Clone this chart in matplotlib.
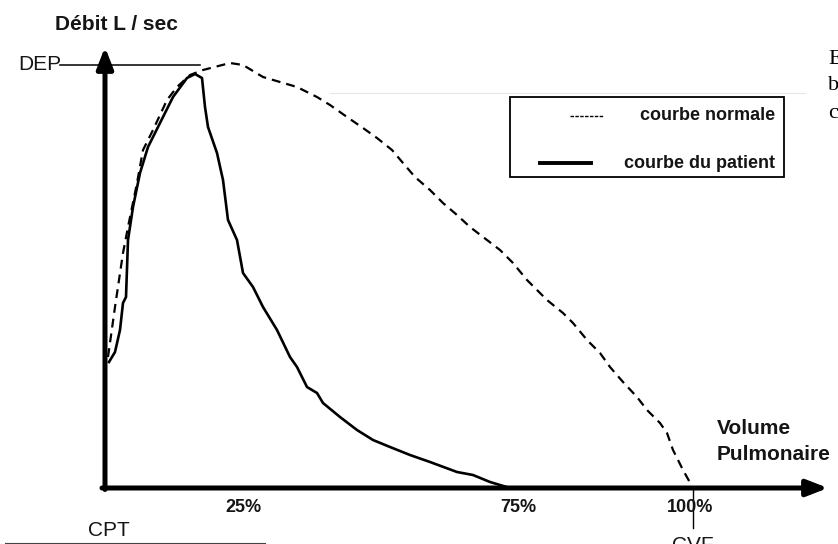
import matplotlib.pyplot as plt
from matplotlib.patches import Rectangle

# volume expiré (L) et débit (L/s)
patient_vol = [0.04, 0.10, 0.15, 0.18, 0.21, 0.23, 0.28, 0.35, 0.43, 0.55, 0.68, 0.82,
               0.90, 0.97, 1.00, 1.03, 1.12, 1.18, 1.23, 1.32, 1.38, 1.48, 1.58, 1.72,
               1.85, 1.92, 2.02, 2.12, 2.18, 2.35, 2.52, 2.68, 2.85, 3.05, 3.25, 3.52,
               3.68, 3.85, 4.05]
patient_flow = [2.52, 2.72, 3.16, 3.70, 3.82, 4.96, 5.62, 6.30, 6.82, 7.30, 7.82, 8.20,
                8.28, 8.20, 7.62, 7.22, 6.70, 6.16, 5.36, 4.96, 4.30, 4.02, 3.62, 3.16,
                2.62, 2.42, 2.02, 1.90, 1.70, 1.42, 1.16, 0.96, 0.82, 0.66, 0.52, 0.32,
                0.26, 0.12, 0.0]

normal_vol = [0.03, 0.10, 0.18, 0.23, 0.32, 0.38, 0.48, 0.62, 0.72, 0.85, 0.98, 1.25,
              1.38, 1.58, 1.92, 2.12, 2.25, 2.42, 2.58, 2.72, 2.87, 2.98, 3.10, 3.25,
              3.38, 3.52, 3.65, 3.82, 3.95, 4.08, 4.22, 4.42, 4.58, 4.68, 4.82, 4.95,
              5.05, 5.18, 5.32, 5.42, 5.55, 5.62, 5.68, 5.78, 5.88]
normal_flow = [2.62, 3.62, 4.70, 5.22, 6.10, 6.76, 7.16, 7.76, 8.02, 8.26, 8.36, 8.50,
               8.46, 8.22, 8.02, 7.82, 7.66, 7.42, 7.20, 7.00, 6.76, 6.50, 6.22, 5.96,
               5.70, 5.46, 5.22, 4.96, 4.76, 4.50, 4.16, 3.76, 3.50, 3.30, 2.96, 2.70,
               2.42, 2.12, 1.82, 1.56, 1.30, 1.10, 0.76, 0.36, 0.0]

dep = 8.46
cvf = 5.88
tick_pos = [1.38, 4.13, 5.85]
tick_labels = ['25%', '75%', '100%']

fig = plt.figure(figsize=(8.38, 5.44), dpi=100)
ax = fig.add_axes([0, 0, 1, 1])
ax.set_xlim(-1.05, 7.33)
ax.set_ylim(-1.12, 9.76)
ax.axis('off')

bold = dict(family='Liberation Sans', weight='bold', color='#151515')
reg = dict(family='Liberation Sans', color='#151515')

# axes fléchés
arrow = dict(arrowstyle='-|>,head_length=0.9,head_width=0.35', lw=3.6, color='black',
             shrinkA=0, shrinkB=0, mutation_scale=14)
ax.annotate('', xy=(0, 8.82), xytext=(0, -0.03), arrowprops=arrow)
ax.annotate('', xy=(7.23, 0), xytext=(-0.03, 0), arrowprops=arrow)

# courbes
ax.plot(normal_vol, normal_flow, color='black', lw=1.6, dashes=(4, 2.7))
ax.plot(patient_vol, patient_flow, color='black', lw=1.9, solid_joinstyle='round')

# DEP et CVF
ax.plot([-0.45, 0.95], [dep, dep], color='black', lw=1.1)
ax.text(-0.44, dep, 'DEP', ha='right', va='center', fontsize=15, **reg)
ax.plot([cvf, cvf], [0, -0.8], color='black', lw=1.0)
ax.text(cvf, -0.96, 'CVF', ha='center', va='top', fontsize=15, **reg)

for p, lab in zip(tick_pos, tick_labels):
    ax.text(p, -0.38, lab, ha='center', va='center', fontsize=13, **bold)

ax.text(0.04, -0.84, 'CPT', ha='center', va='center', fontsize=15, **reg)
ax.plot([-1.0, 1.6], [-1.10, -1.10], color='#444444', lw=0.8)

ax.text(-0.50, 9.26, 'Débit L / sec', ha='left', va='center', fontsize=15, **bold)
ax.text(6.12, 1.18, 'Volume', ha='left', va='center', fontsize=15, **bold)
ax.text(6.12, 0.66, 'Pulmonaire', ha='left', va='center', fontsize=15, **bold)

# légende
ax.plot([2.25, 7.0], [7.90, 7.90], color='#e6e6e6', lw=0.8)
ax.add_patch(Rectangle((4.05, 6.22), 2.74, 1.60, fill=False, lw=1.3, ec='black'))
ax.plot([4.65, 4.98], [7.44, 7.44], color='black', lw=1.0, dashes=(2.5, 1))
ax.text(6.70, 7.44, 'courbe normale', ha='right', va='center', fontsize=13, **bold)
ax.plot([4.35, 4.86], [6.50, 6.50], color='black', lw=2.8)
ax.text(6.70, 6.50, 'courbe du patient', ha='right', va='center', fontsize=13, **bold)

# texte coupé à droite
for y, s in zip([8.56, 8.06, 7.50], ['E', 'b', 'c']):
    ax.text(7.23, y, s, ha='left', va='center', fontsize=16, family='Liberation Serif')

fig.savefig('out.png', dpi=100)
